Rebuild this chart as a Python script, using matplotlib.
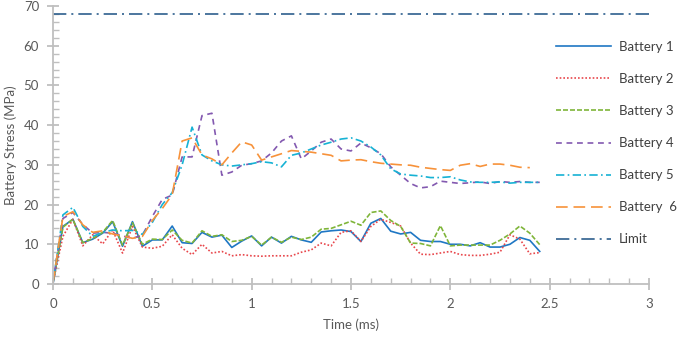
import numpy as np
import matplotlib
matplotlib.use("Agg")
import matplotlib.pyplot as plt

plt.rcParams['font.family'] = ['Lato', 'DejaVu Sans']

time_ms = np.round(np.arange(50) * 0.05, 2)

battery1 = [0, 14.5, 16.3, 10.4, 11.3, 12.8, 15.7, 9.5, 15.7, 9.5,
            11.1, 11.1, 14.6, 10.4, 10.2, 13.0, 11.8, 12.3, 9.2, 10.8,
            12.1, 9.6, 11.8, 10.3, 12.0, 11.1, 10.5, 13.1, 13.4, 13.6,
            13.2, 10.7, 15.3, 16.5, 13.3, 12.6, 13.0, 11.0, 10.7, 10.7,
            10.0, 10.0, 9.6, 10.4, 9.3, 9.3, 10.0, 11.7, 11.0, 8.2]
battery2 = [0.3, 12.0, 16.3, 9.6, 12.4, 10.1, 13.6, 7.8, 14.5, 9.3,
            9.0, 9.5, 12.4, 9.0, 7.4, 10.0, 7.8, 8.2, 7.1, 7.4,
            7.1, 7.0, 7.1, 7.1, 7.1, 8.0, 8.6, 10.3, 9.6, 13.0,
            13.4, 10.7, 14.5, 16.3, 15.5, 14.6, 10.3, 7.5, 7.4, 7.8,
            8.2, 7.4, 7.2, 7.2, 7.5, 8.0, 12.4, 11.3, 7.6, 7.9]
battery3 = [0.5, 14.3, 16.3, 10.4, 11.5, 13.0, 16.0, 9.8, 15.4, 10.0,
            11.3, 11.2, 13.6, 11.0, 10.3, 13.4, 12.0, 12.4, 10.7, 11.0,
            12.0, 9.8, 11.8, 10.5, 11.8, 11.2, 11.8, 13.8, 14.0, 14.9,
            15.8, 14.8, 18.0, 18.4, 16.0, 14.5, 10.3, 10.2, 9.6, 14.7,
            9.6, 9.8, 9.8, 9.8, 9.8, 11.0, 12.6, 14.6, 12.8, 9.9]
battery4 = [0.5, 16.5, 18.0, 15.0, 12.8, 13.0, 12.8, 12.1, 11.5, 12.3,
            17.0, 21.3, 22.4, 32.0, 32.0, 42.4, 43.0, 27.4, 28.2, 29.9,
            30.3, 31.0, 33.0, 36.0, 37.3, 31.5, 33.5, 35.7, 36.5, 34.0,
            33.5, 35.5, 34.3, 32.8, 29.5, 27.4, 25.3, 24.2, 24.5, 25.9,
            25.6, 25.3, 25.5, 25.7, 25.3, 25.8, 25.6, 25.8, 25.6, 25.6]
battery5 = [0.3, 17.4, 19.3, 14.5, 12.0, 13.0, 13.6, 13.4, 13.5, 12.5,
            15.5, 20.0, 23.0, 30.0, 39.5, 32.5, 31.0, 30.0, 29.7, 30.0,
            30.3, 30.8, 30.5, 29.5, 32.4, 33.0, 34.0, 35.0, 35.7, 36.5,
            36.8, 36.0, 34.5, 32.5, 29.0, 27.7, 27.4, 27.2, 26.8, 26.8,
            27.0, 26.2, 25.7, 25.6, 25.6, 25.7, 25.4, 25.6, 25.6, 25.6]
battery6 = [0.3, 17.0, 18.2, 14.9, 13.0, 13.4, 12.6, 12.1, 11.5, 12.0,
            16.0, 19.0, 22.5, 36.0, 36.8, 32.5, 31.5, 30.0, 33.0, 35.8,
            35.0, 31.2, 32.0, 32.8, 33.6, 33.4, 33.2, 32.8, 32.4, 31.0,
            31.2, 31.3, 30.8, 30.4, 30.2, 30.0, 29.9, 29.4, 29.1, 28.8,
            28.6, 29.9, 30.3, 29.6, 30.2, 30.2, 29.9, 29.4, 29.3, np.nan]
limit_value = 68
x_ticks = [0, 0.5, 1, 1.5, 2, 2.5, 3]
y_ticks = [0, 10, 20, 30, 40, 50, 60, 70]
labels = ['Battery 1', 'Battery 2', 'Battery 3', 'Battery 4', 'Battery 5', 'Battery  6', 'Limit']

fig = plt.figure(figsize=(6.78, 3.39), dpi=100)
ax = fig.add_axes([53/678, 1-284/339, (649-53)/678, (284-6)/339])

lw = 1.2
ax.plot(time_ms, battery1, color='#1F77C4', lw=lw, ls='-', label=labels[0])
ax.plot(time_ms, battery2, color='#E8474C', lw=lw, ls=(0, (1, 1.2)), label=labels[1])
ax.plot(time_ms, battery3, color='#7FB539', lw=lw, ls=(0, (3, 1.2)), label=labels[2])
ax.plot(time_ms, battery4, color='#8359B0', lw=lw, ls=(0, (3.5, 2.8)), label=labels[3])
ax.plot(time_ms, battery5, color='#16B2D4', lw=lw, ls=(0, (5, 2, 1, 2)), label=labels[4])
ax.plot(time_ms, battery6, color='#F7923A', lw=lw, ls=(0, (7, 3.5)), label=labels[5])
ax.axhline(limit_value, color='#2D5F8E', lw=lw, ls=(0, (8, 3, 1.2, 3)), label=labels[6])

ax.set_xlim(0, 3)
ax.set_ylim(0, 70)
ax.set_xticks(x_ticks)
ax.set_xticklabels([str(v) for v in x_ticks])
ax.set_yticks(y_ticks)
ax.set_xticks(np.arange(0, 3.01, 0.1), minor=True)
ax.set_yticks(np.arange(0, 70.1, 2), minor=True)

grey = '#BFBFBF'
fs = 9.5
for s in ['top', 'right']:
    ax.spines[s].set_visible(False)
for s in ['left', 'bottom']:
    ax.spines[s].set_color(grey)
    ax.spines[s].set_linewidth(1.3)
ax.tick_params(which='major', direction='inout', length=8, width=1.3, color=grey,
               labelsize=fs, labelcolor='#595959', pad=6)
ax.tick_params(which='minor', direction='in', length=4, width=1.0, color=grey)

ax.set_xlabel('Time (ms)', fontsize=fs, color='#595959', labelpad=6)
ax.set_ylabel('Battery Stress (MPa)', fontsize=fs, color='#595959', labelpad=5)

fig.legend(loc='upper left', bbox_to_anchor=(556/678, 1-41/339), frameon=False,
           fontsize=fs, labelcolor='#404040', handlelength=4.2, handletextpad=0.55,
           labelspacing=1.52, borderaxespad=0, borderpad=0)

fig.savefig('out.png', dpi=100)
